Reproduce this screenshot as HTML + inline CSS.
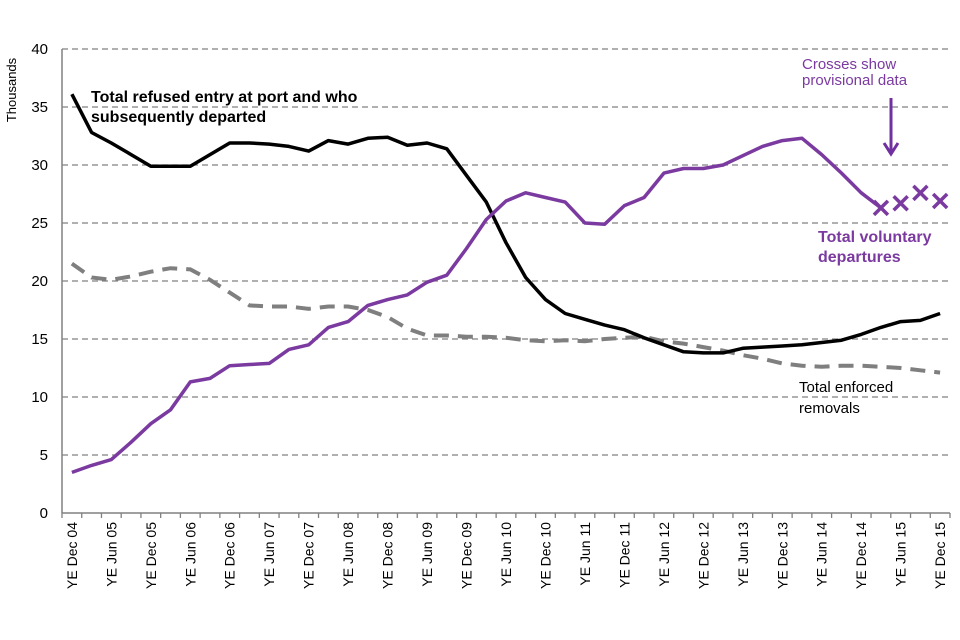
<!DOCTYPE html>
<html><head><meta charset="utf-8"><style>
body{margin:0;background:#fff;}
svg{display:block;font-family:"Liberation Sans",Arial,sans-serif;}
</style></head><body>
<svg id="chart" width="960" height="640"></svg>
<script>
const categories=["Dec 04","Mar 05","Jun 05","Sep 05","Dec 05","Mar 06","Jun 06","Sep 06","Dec 06","Mar 07","Jun 07","Sep 07","Dec 07","Mar 08","Jun 08","Sep 08","Dec 08","Mar 09","Jun 09","Sep 09","Dec 09","Mar 10","Jun 10","Sep 10","Dec 10","Mar 11","Jun 11","Sep 11","Dec 11","Mar 12","Jun 12","Sep 12","Dec 12","Mar 13","Jun 13","Sep 13","Dec 13","Mar 14","Jun 14","Sep 14","Dec 14","Mar 15","Jun 15","Sep 15","Dec 15"];
const refusedValues=[36.1,32.8,31.9,30.9,29.9,29.9,29.9,30.9,31.9,31.9,31.8,31.6,31.2,32.1,31.8,32.3,32.4,31.7,31.9,31.4,29.1,26.8,23.3,20.3,18.4,17.2,16.7,16.2,15.8,15.1,14.5,13.9,13.8,13.8,14.2,14.3,14.4,14.5,14.7,14.9,15.4,16.0,16.5,16.6,17.2];
const voluntaryValues=[3.5,4.1,4.6,6.1,7.7,8.9,11.3,11.6,12.7,12.8,12.9,14.1,14.5,16.0,16.5,17.9,18.4,18.8,19.9,20.5,22.8,25.3,26.9,27.6,27.2,26.8,25.0,24.9,26.5,27.2,29.3,29.7,29.7,30.0,30.8,31.6,32.1,32.3,30.9,29.3,27.6,26.3,26.7,27.6,26.9];
const provisionalStart=41;
const enforcedValues=[21.5,20.3,20.1,20.4,20.8,21.1,21.0,20.1,19.0,17.9,17.8,17.8,17.6,17.8,17.8,17.5,16.9,15.9,15.3,15.3,15.2,15.2,15.1,14.9,14.8,14.9,14.8,15.0,15.1,15.2,14.8,14.6,14.3,14.0,13.6,13.3,12.9,12.7,12.6,12.7,12.7,12.6,12.5,12.3,12.1];
const yTicks=[0,5,10,15,20,25,30,35,40];

const NS="http://www.w3.org/2000/svg";
const svg=document.getElementById('chart');
const X0=62,X1=950,Y0=513,Y1=49;
const step=(X1-X0)/categories.length;
function xs(i){return X0+step*(i+0.5);}
function ys(v){return Y0-(v/40)*(Y0-Y1);}
function mk(tag,attrs,parent){const e=document.createElementNS(NS,tag);for(const k in attrs)e.setAttribute(k,attrs[k]);(parent||svg).appendChild(e);return e;}

yTicks.forEach(t=>{
  if(t>0){const g=mk('line',{x1:X0,x2:X1,y1:ys(t),y2:ys(t),stroke:'#808080','stroke-width':1.3,'stroke-dasharray':'6,4'});
  
  }
  const l=mk('text',{x:48,y:ys(t)+5,'text-anchor':'end','font-size':15,fill:'#000'});l.textContent=t;
  
  
});
const ya=mk('line',{x1:X0,x2:X0,y1:Y1,y2:Y0,stroke:'#808080','stroke-width':1.5});


const xa=mk('line',{x1:X0,x2:X1,y1:Y0,y2:Y0,stroke:'#808080','stroke-width':1.5});


for(let i=0;i<=categories.length;i++){mk('line',{x1:X0+step*i,x2:X0+step*i,y1:Y0,y2:Y0+5,stroke:'#808080','stroke-width':1.3});}
categories.forEach((c,i)=>{
  if(i%2!==0)return;
  const x=xs(i)+5,y=522;
  const t=mk('text',{x:x,y:y,'text-anchor':'end','font-size':14,transform:`rotate(-90 ${x} ${y})`});
  t.textContent='YE '+c;
  
  
});
const yt=mk('text',{x:16,y:90,'text-anchor':'middle','font-size':13,transform:'rotate(-90 16 90)'});yt.textContent='Thousands';



function pts(arr,n){return arr.slice(0,n).map((v,i)=>xs(i).toFixed(1)+','+ys(v).toFixed(1)).join(' ');}
const en=mk('polyline',{points:pts(enforcedValues,enforcedValues.length),fill:'none',stroke:'#7f7f7f','stroke-width':4,'stroke-dasharray':'15,9'});


const rf=mk('polyline',{points:pts(refusedValues,refusedValues.length),fill:'none',stroke:'#000','stroke-width':3.5,'stroke-linejoin':'round'});


const vo=mk('polyline',{points:pts(voluntaryValues,provisionalStart+1),fill:'none',stroke:'#7b3aa0','stroke-width':3.5,'stroke-linejoin':'round'});


for(let i=provisionalStart;i<voluntaryValues.length;i++){
  const x=xs(i),y=ys(voluntaryValues[i]),d=7;
  const g=mk('path',{d:`M${x-d},${y-d}L${x+d},${y+d}M${x-d},${y+d}L${x+d},${y-d}`,stroke:'#7b3aa0','stroke-width':3.5,fill:'none'});
  
  
}
function txt(s,x,y,opts,name){const t=mk('text',Object.assign({x:x,y:y,'font-size':16},opts));t.textContent=s;
  
  return t;}
txt('Total refused entry at port and who',91,102,{'font-weight':'bold'},'refused-label');
txt('subsequently departed',91,122,{'font-weight':'bold'},'refused-label-line2');
txt('Crosses  show',802,69,{fill:'#7b3aa0','font-size':15},'crosses-note');
txt('provisional data',802,85,{fill:'#7b3aa0','font-size':15},'crosses-note-line2');
const ar=mk('path',{d:'M891,98L891,153M884,143L891,154L898,143',stroke:'#7030a0','stroke-width':3,fill:'none'});


txt('Total voluntary',818,242,{fill:'#7b3aa0','font-weight':'bold'},'voluntary-label');
txt('departures',818,262,{fill:'#7b3aa0','font-weight':'bold'},'voluntary-label-line2');
txt('Total enforced',799,392,{'font-size':15},'enforced-label');
txt('removals',799,413,{'font-size':15},'enforced-label-line2');
</script>
</body></html>
